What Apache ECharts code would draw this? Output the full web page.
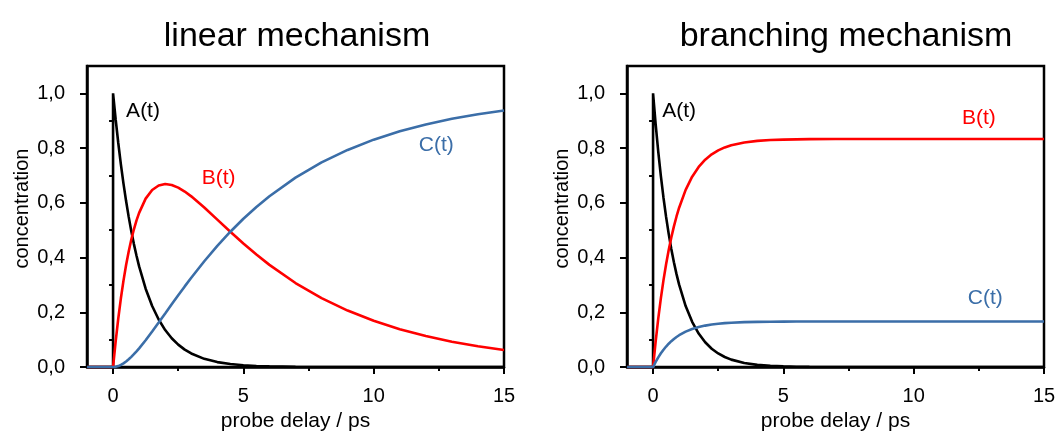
<!DOCTYPE html>
<html>
<head>
<meta charset="utf-8">
<script src="https://cdn.jsdelivr.net/npm/echarts@6/dist/echarts.min.js"></script>
<style>
html,body{margin:0;padding:0;background:#fff;}
#chart{width:1059px;height:437px;}
</style>
</head>
<body>
<div id="chart"></div>
<script>
// time axis (ps); the two 0 entries give the step of A(t) at t = 0
const times = [-1, 0, 0, 0.1, 0.2, 0.3, 0.4, 0.5, 0.6, 0.7, 0.8, 0.9, 1.0, 1.25, 1.5, 1.75, 2.0, 2.25, 2.5, 2.75, 3.0, 3.5, 4, 4.5, 5, 5.5, 6, 7, 8, 9, 10, 11, 12, 13, 14, 15];

// linear mechanism
const linearA = [0, 0, 1, 0.9048, 0.8187, 0.7408, 0.6703, 0.6065, 0.5488, 0.4966, 0.4493, 0.4066, 0.3679, 0.2865, 0.2231, 0.1738, 0.1353, 0.1054, 0.0821, 0.0639, 0.0498, 0.0302, 0.0183, 0.0111, 0.0067, 0.0041, 0.0025, 0.0009, 0.0003, 0.0001, 0, 0, 0, 0, 0, 0];
const linearB = [0, 0, 0, 0.0943, 0.1776, 0.2513, 0.3160, 0.3729, 0.4226, 0.4660, 0.5035, 0.5359, 0.5635, 0.6154, 0.6471, 0.6636, 0.6688, 0.6653, 0.6555, 0.6413, 0.6238, 0.5830, 0.5388, 0.4944, 0.4515, 0.4110, 0.3734, 0.3071, 0.2520, 0.2065, 0.1691, 0.1385, 0.1134, 0.0929, 0.0760, 0.0623];
const linearC = [0, 0, 0, 0.0009, 0.0037, 0.0079, 0.0137, 0.0206, 0.0286, 0.0374, 0.0472, 0.0575, 0.0686, 0.0981, 0.1298, 0.1626, 0.1959, 0.2293, 0.2624, 0.2948, 0.3264, 0.3868, 0.4429, 0.4945, 0.5418, 0.5849, 0.6241, 0.6920, 0.7477, 0.7934, 0.8309, 0.8615, 0.8866, 0.9071, 0.9240, 0.9377];

// branching mechanism
const branchA = [0, 0, 1, 0.8869, 0.7866, 0.6977, 0.6188, 0.5488, 0.4868, 0.4317, 0.3829, 0.3396, 0.3012, 0.2231, 0.1653, 0.1225, 0.0907, 0.0672, 0.0498, 0.0369, 0.0273, 0.0150, 0.0082, 0.0045, 0.0025, 0.0014, 0.0007, 0.0002, 0.0001, 0, 0, 0, 0, 0, 0, 0];
const branchB = [0, 0, 0, 0.0943, 0.1778, 0.2519, 0.3177, 0.3760, 0.4277, 0.4736, 0.5142, 0.5503, 0.5823, 0.6474, 0.6956, 0.7312, 0.7578, 0.7773, 0.7918, 0.8026, 0.8106, 0.8208, 0.8265, 0.8296, 0.8312, 0.8321, 0.8327, 0.8331, 0.8332, 0.8333, 0.8333, 0.8333, 0.8333, 0.8333, 0.8333, 0.8333];
const branchC = [0, 0, 0, 0.0189, 0.0356, 0.0504, 0.0635, 0.0752, 0.0855, 0.0947, 0.1028, 0.1101, 0.1165, 0.1295, 0.1391, 0.1462, 0.1516, 0.1555, 0.1584, 0.1605, 0.1621, 0.1642, 0.1653, 0.1659, 0.1662, 0.1664, 0.1665, 0.1666, 0.1666, 0.1667, 0.1667, 0.1667, 0.1667, 0.1667, 0.1667, 0.1667];

// ticks
const xMajorTicks = [0, 5, 10, 15];
const xMinorTicks = [2.5, 7.5, 12.5];
const yMajorTicks = [0, 0.2, 0.4, 0.6, 0.8, 1.0];
const yMinorTicks = [0.1, 0.3, 0.5, 0.7, 0.9];

const panelTitles = ['linear mechanism', 'branching mechanism'];
const seriesNames = ['A(t)', 'B(t)', 'C(t)'];

const FONT = '"Liberation Sans", Arial, sans-serif';
const COLORS = ['#000000', '#ff0000', '#3b6ea8'];

function pairs(vals) { return times.map((t, i) => [t, vals[i]]); }

const gridLefts = [87, 627];
const grids = gridLefts.map(l => ({
  left: l, top: 66, width: 417, height: 302,
  show: true, borderColor: '#000', borderWidth: 2.5, backgroundColor: 'transparent'
}));

const xAxes = [], yAxes = [];
[0, 1].forEach(g => {
  xAxes.push({
    type: 'value', gridIndex: g, min: -1, max: 15,
    axisLine: { show: true, onZero: false, lineStyle: { color: '#000', width: 2.5 } },
    axisTick: { show: true, customValues: xMajorTicks, length: 7, lineStyle: { color: '#000', width: 2 } },
    axisLabel: { show: true, customValues: xMajorTicks, fontSize: 20, color: '#000', fontFamily: FONT, margin: 19 },
    splitLine: { show: false },
    name: 'probe delay / ps', nameLocation: 'middle', nameGap: 43,
    nameTextStyle: { fontSize: 21, color: '#000', fontFamily: FONT }
  });
  xAxes.push({
    type: 'value', gridIndex: g, min: -1, max: 15, position: 'bottom',
    axisLine: { show: false },
    axisTick: { show: true, customValues: xMinorTicks, length: 4, lineStyle: { color: '#000', width: 2 } },
    axisLabel: { show: false }, splitLine: { show: false }
  });
  yAxes.push({
    type: 'value', gridIndex: g, min: 0, max: 1.1,
    axisLine: { show: true, onZero: false, lineStyle: { color: '#000', width: 2.5 } },
    axisTick: { show: true, customValues: yMajorTicks, length: 7, lineStyle: { color: '#000', width: 2 } },
    axisLabel: { show: true, customValues: yMajorTicks, fontSize: 20, color: '#000', fontFamily: FONT, margin: 22,
      formatter: v => v.toFixed(1).replace('.', ',') },
    splitLine: { show: false },
    name: 'concentration', nameLocation: 'middle', nameGap: 55,
    nameTextStyle: { fontSize: 20, color: '#000', fontFamily: FONT, padding: [0, 0, 0, 16] }
  });
  yAxes.push({
    type: 'value', gridIndex: g, min: 0, max: 1.1, position: 'left',
    axisLine: { show: false },
    axisTick: { show: true, customValues: yMinorTicks, length: 4, lineStyle: { color: '#000', width: 2 } },
    axisLabel: { show: false }, splitLine: { show: false }
  });
});

const panelData = [[linearA, linearB, linearC], [branchA, branchB, branchC]];
// annotation anchors in data units
const annot = [
  [[1.15, 0.935], [4.05, 0.69], [12.4, 0.81]],
  [[1.0, 0.935], [12.5, 0.91], [12.75, 0.25]]
];

const series = [];
[0, 1].forEach(g => {
  panelData[g].forEach((vals, k) => {
    series.push({
      type: 'line', name: seriesNames[k], xAxisIndex: g * 2, yAxisIndex: g * 2,
      data: pairs(vals), showSymbol: false, symbol: 'none', smooth: false,
      lineStyle: { color: COLORS[k], width: 2.6 }, itemStyle: { color: COLORS[k] },
      animation: false, z: 2 + k,
      markPoint: {
        symbol: 'circle', symbolSize: 1, itemStyle: { color: 'rgba(0,0,0,0)' },
        label: { show: true, position: 'inside', formatter: seriesNames[k], fontSize: 21, color: COLORS[k], fontFamily: FONT },
        data: [{ coord: annot[g][k] }], animation: false
      }
    });
  });
});

const chart = echarts.init(document.getElementById('chart'), null, { renderer: 'canvas' });
chart.setOption({
  backgroundColor: '#ffffff',
  animation: false,
  title: panelTitles.map((t, i) => ({
    text: t, left: [292, 841][i], top: 15, textAlign: 'center',
    textStyle: { fontSize: 34, fontWeight: 'normal', color: '#000', fontFamily: FONT }
  })),
  grid: grids,
  xAxis: xAxes,
  yAxis: yAxes,
  series: series
});
</script>
</body>
</html>
